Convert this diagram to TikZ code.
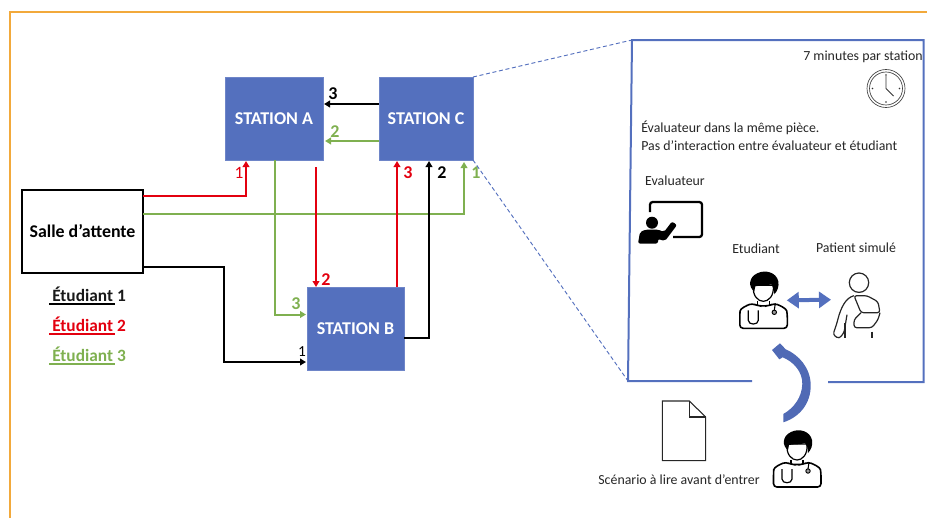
\documentclass[tikz,border=0pt]{standalone}
\usepackage{fontspec}
\setmainfont{Carlito}
\usetikzlibrary{arrows.meta,calc}
\definecolor{stablue}{HTML}{5470BE}
\definecolor{stugreen}{HTML}{7FB050}
\definecolor{stured}{HTML}{E3000F}
\definecolor{frameorange}{HTML}{F2A93B}
\tikzset{
  station/.style={fill=stablue,draw=stablue!85!white,line width=0.4pt,text=white,outer sep=0pt,font=\fontsize{13.5}{16}\selectfont\bfseries,inner sep=0pt},
  route/.style={line width=1.5pt,-{Triangle[length=4.5pt,width=5pt]}},
  rlabel/.style={inner sep=0pt,font=\fontsize{13.5}{15}\selectfont\bfseries},
  legendlabel/.style={inner sep=0pt,anchor=west,font=\fontsize{13}{15}\selectfont\bfseries},
  note/.style={inner sep=0pt,font=\fontsize{10.4}{12}\selectfont,text=black!85},
  doctor/.pic={
    \draw[line width=1.2pt,rounded corners=2.5pt,fill=white] (-23.5,-1) -- (-23.5,-15) .. controls (-23,-21) and (-16,-24) .. (-11,-26) -- (-6,-23.5) -- (6,-23.5) -- (11,-26) .. controls (16,-24) and (23,-21) .. (24,-15) -- (24,-1) -- cycle;
    \draw[line width=0.9pt] (-15,-19) -- (-15,-9) .. controls (-15,-4) and (-5,-4) .. (-5,-9) -- (-5,-19);
    \draw[line width=0.7pt,fill=black!40] (11,-17) circle (2.2);
    \draw[line width=0.8pt] (11,-19) -- (12,-26);
    \draw[line width=0.8pt] (-6,-28) -- (-6,-24) (6,-28) -- (6,-24);
    \draw[line width=0.9pt,fill=white] (-10,-44) .. controls (-11,-33) and (-5,-28) .. (0,-28) .. controls (5,-28) and (11,-33) .. (10,-44) -- cycle;
    \fill (-9,-38) .. controls (-15,-42) and (-15,-52) .. (-6,-56) .. controls (2,-60) and (13,-57) .. (15,-48) .. controls (16,-43) and (14,-38) .. (11,-35) .. controls (11,-40) and (10,-43) .. (8,-45) .. controls (3,-43) and (-5,-44) .. (-8,-43) -- cycle;
    \coordinate (-r) at (23.5,-29);
  },
  slingpatient/.pic={
    \draw[line width=0.9pt,black!85] (0,0) circle (9.7);
    \draw[line width=0.9pt,black!85,rounded corners=2pt] (-5,13) .. controls (-13,15) and (-18,24) .. (-22,40) -- (-26,52) -- (-20,56) -- (-15,50) -- (-12,32);
    \draw[line width=0.9pt,black!85,rounded corners=2pt] (-5,13) -- (2,30) -- (21,30) -- (19,19) -- (8,13) -- cycle;
    \draw[line width=0.9pt,black!85,rounded corners=2pt] (2,30) -- (-5,37) -- (-5,45) -- (13,45) -- (19,37) -- (21,30);
    \draw[line width=0.9pt,black!85] (-14,40) -- (-14,55) (13,49) -- (13,55);
    \coordinate (-l) at (-28,17);
  }
}
\begin{document}
\begin{tikzpicture}[x=0.75pt,y=-0.75pt]
  \useasboundingbox (0,0) rectangle (927,518);
  \draw[frameorange,line width=0.9pt] (10,518) -- (10,12) -- (927,12);

  \node[station,minimum width=73.5pt,minimum height=62.25pt] (staA) at (274,118.5) {STATION A};
  \node[station,minimum width=70.5pt,minimum height=62.25pt] (staC) at (426,118.5) {STATION C};
  \node[station,minimum width=72.75pt,minimum height=62.25pt] (staB) at (355.5,328.5) {STATION B};
  \node[draw,line width=1.5pt,outer sep=0pt,inner sep=0pt,minimum width=90.75pt,minimum height=62.25pt,font=\fontsize{13.4}{15}\selectfont\bfseries] (salle) at (82.5,231.5) {Salle d’attente};

  \draw[route,stured] ($(salle.north east)+(0,5.5)$) -| ($(staA.south west)+(21,1)$);
  \draw[route,stugreen,line width=1.1pt] ($(salle.north east)+(0,24)$) -| ($(staC.south west)+(85,2)$);
  \draw[route,black] ($(salle.south east)+(0,-6)$) -- ++(81,0) |- ($(staB.south west)+(-1,-8)$);
  \draw[route,stugreen] ($(staA.south west)+(49.5,0)$) |- ($(staB.south west)+(-1,-55.5)$);
  \draw[route,stured] ($(staA.south west)+(91,7)$) -- ($(staB.north west)+(9,0)$);
  \draw[route,stured] ($(staB.north west)+(90,0)$) -- ($(staC.south west)+(18,1)$);
  \draw[route,black] ($(staB.south east)+(0,-32)$) -| ($(staC.south west)+(50,1)$);
  \draw[route,black] ($(staC.north west)+(0,27)$) -- ($(staA.north east)+(1,27)$);
  \draw[route,stugreen] ($(staC.north west)+(0,64)$) -- ($(staA.north east)+(2,64)$);

  \node[rlabel,stured,font=\fontsize{13}{15}\selectfont] (lblAred) at (239,173) {1};
  \node[rlabel,stured] (lblBred) at (326,280) {2};
  \node[rlabel,stured] (lblCred) at (408,173) {3};
  \node[rlabel,stugreen] (lblAgreen) at (335,132) {2};
  \node[rlabel,stugreen] (lblBgreen) at (296,304) {3};
  \node[rlabel,stugreen] (lblCgreen) at (476,173) {1};
  \node[rlabel] (lblAblack) at (333,94) {3};
  \node[rlabel] (lblCblack) at (442,173) {2};
  \node[inner sep=0pt,font=\fontsize{11.5}{13}\selectfont] (lblBblack) at (302,352) {1};

  \node[legendlabel,black!90] (legA) at (52,294) {Étudiant 1};
  \node[legendlabel,stured] (legB) at (52,324) {Étudiant 2};
  \node[legendlabel,stugreen] (legC) at (52,354) {Étudiant 3};
  \draw[black,line width=1.2pt] (49,304) -- (114.5,304);
  \draw[stured,line width=1.2pt] (49,334) -- (114.5,334);
  \draw[stugreen,line width=1.2pt] (49,364) -- (114.5,364);

  % panel
  \coordinate (pnw) at (632,40);
  \coordinate (pne) at (923.5,40);
  \coordinate (pse) at (923.5,382);
  \coordinate (psr) at (828,382);
  \coordinate (psl) at (752,381);
  \coordinate (psw) at (628,381);
  \draw[stablue,line width=1.5pt] (psl) -- (psw) -- (pnw) -- (pne) -- (pse) -- (psr);
  \draw[stablue,densely dashed,line width=0.7pt] (staC.north east) -- (pnw);
  \draw[stablue,densely dashed,line width=0.7pt] (staC.south east) -- (psw);

  \node[note,anchor=east] (txtTime) at (923,57) {7 minutes par station};
  \node[note,anchor=west] (txtEval) at (641,128) {Évaluateur dans la même pièce.};
  \node[note,anchor=west] (txtInter) at (641,146) {Pas d’interaction entre évaluateur et étudiant};
  \node[note] (txtAssessor) at (675,181) {Evaluateur};
  \node[note] (txtStudent) at (756,249) {Etudiant};
  \node[note] (txtPatient) at (856,248) {Patient simulé};
  \node[note] (txtScenario) at (679,480) {Scénario à lire avant d’entrer};

  % clock
  \draw[black!75,line width=0.5pt] (886,88.5) circle (19) circle (16.5);
  \draw[black!80,line width=0.7pt] (886,76) -- (886,88.5) -- (893.5,96);
  \foreach \a in {0,90,180,270}
    \fill[black!80] (886,88.5) ++(\a:13.5) circle (0.8);

  % board
  \draw[line width=1.7pt,rounded corners=2pt] (650,212) -- (650,202) -- (702,202) -- (702,237) -- (673,237);
  \fill (652,222.7) circle (6);
  \fill[rounded corners=1.5pt] (638,243.5) -- (640,232) -- (646,229.5) -- (658,229.5) -- (664,232) -- (672,221.5) -- (677,225) -- (665,241) -- (658,239) -- (658,243.5) -- cycle;

  \pic (docA) at (763.3,329.3) {doctor};
  \pic (docB) at (797,488) {doctor};
  \pic (pat) at (859,282.7) {slingpatient};
  \draw[stablue,line width=3pt,{Triangle[length=9pt,width=12pt]}-{Triangle[length=9pt,width=12pt]}] (docA-r) -- (pat-l);

  % curved arrow
  \fill[stablue!95!black] (783.3,422.3) .. controls (800,417) and (811,403) .. (810.7,385)
    .. controls (810.5,368) and (799,355) .. (785.7,349.3) -- (780,343.3) -- (772,350) -- (779.3,359.3) -- (782.7,357.3)
    .. controls (794,362) and (802.5,372) .. (802.3,384) .. controls (802,397) and (794,408) .. (783.3,414) -- cycle;

  % sheet
  \draw[black!85,line width=0.8pt] (662.3,401) -- (689.3,401) -- (705.7,417) -- (705.7,460.7) -- (662.3,460.7) -- cycle;
  \draw[black!85,line width=0.8pt] (689.3,401) -- (689.3,417) -- (705.7,417);
\end{tikzpicture}
\end{document}
